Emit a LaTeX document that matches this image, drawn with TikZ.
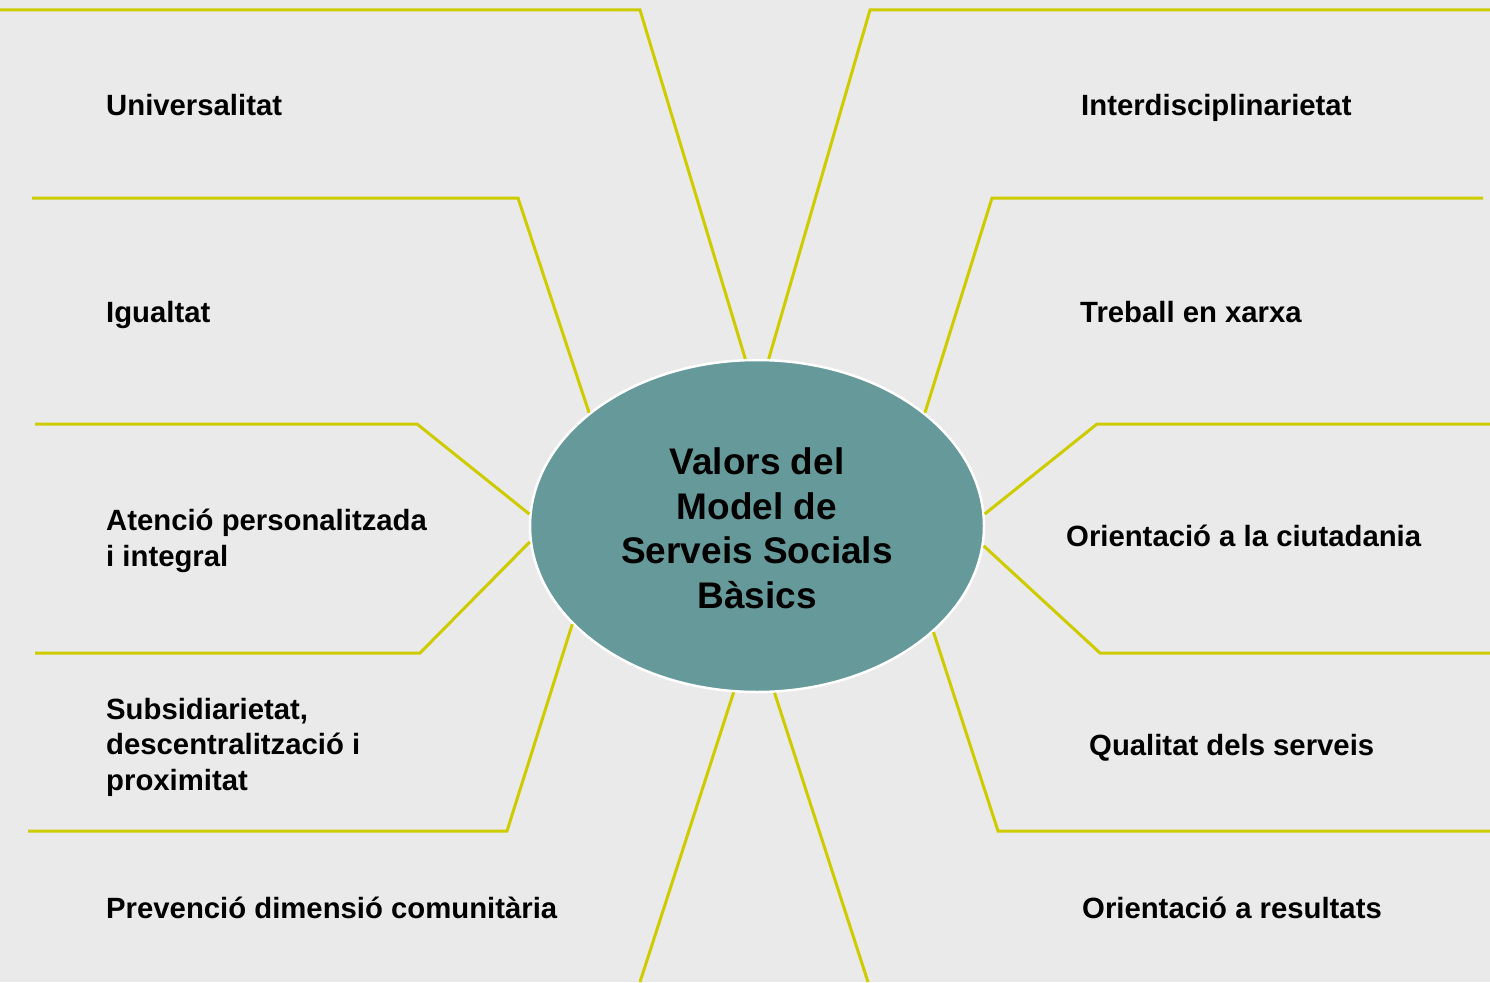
\documentclass[tikz,border=0pt]{standalone}
\usepackage{fontspec}
\setmainfont{Liberation Sans}
\usetikzlibrary{shapes.geometric}
\definecolor{bgc}{RGB}{234,234,234}
\definecolor{teal0}{RGB}{102,153,153}
\definecolor{lime0}{RGB}{206,204,0}
\tikzset{
  lbl/.style={anchor=west,inner sep=0pt,align=left,font=\fontsize{29.3}{35.5}\selectfont\bfseries,text=black},
  lblb/.style={lbl,anchor=base west},
  conn/.style={draw=lime0,line width=3pt,line join=miter},
  hub/.style={ellipse,fill=teal0,draw=white,line width=2.5pt,minimum width=454pt,minimum height=332pt,inner sep=0pt,align=center,font=\fontsize{37}{44.5}\selectfont\bfseries}
}
\begin{document}
\begin{tikzpicture}[x=1pt,y=-1pt]
\fill[bgc] (0,0) rectangle (1490,982);
\useasboundingbox (0,0) rectangle (1490,982);

\node[hub] (c) at (757,526) {};
\node[inner sep=0pt,align=center,font=\fontsize{37}{44.5}\selectfont\bfseries] (ct) at (757,528.5) {Valors del\\Model de\\Serveis Socials\\Bàsics};

% labels
\node[lblb] (l1) at (106,115.7) {Universalitat};
\node[lblb] (l2) at (106,322.7) {Igualtat};
\node[lbl] (l3) at (106,541) {Atenció personalitzada\\i integral};
\node[lbl] (l4) at (106,747) {Subsidiarietat,\\descentralització i\\proximitat};
\node[lblb] (l5) at (106,918.7) {Prevenció dimensió comunitària};
\node[lblb] (r1) at (1081,115.7) {Interdisciplinarietat};
\node[lblb] (r2) at (1080,322.7) {Treball en xarxa};
\node[lblb] (r3) at (1066,546.7) {Orientació a la ciutadania};
\node[lblb] (r4) at (1089,755.7) {Qualitat dels serveis};
\node[lblb] (r5) at (1082,918.7) {Orientació a resultats};

% bend and end coordinates
\coordinate (a1) at (640,10);   \coordinate (e1) at (0,10);
\coordinate (b1) at (870,10);   \coordinate (f1) at (1490,10);
\coordinate (a2) at (518,198);  \coordinate (e2) at (32,198);
\coordinate (b2) at (992,198);  \coordinate (f2) at (1483,198);
\coordinate (a3) at (417,424);  \coordinate (e3) at (35,424);
\coordinate (a3b) at (420,653); \coordinate (e3b) at (35,653);
\coordinate (b3) at (1097,424); \coordinate (f3) at (1490,424);
\coordinate (b3b) at (1100,653);\coordinate (f3b) at (1490,653);
\coordinate (a4) at (507,831);  \coordinate (e4) at (28,831);
\coordinate (b4) at (998,831);  \coordinate (f4) at (1490,831);
\coordinate (a5) at (640,982);
\coordinate (b5) at (868,982);

% connectors
\draw[conn] (c.94.1) -- (a1) -- (e1);
\draw[conn] (c.86.9) -- (b1) -- (f1);
\draw[conn] (c.146.6) -- (a2) -- (e2);
\draw[conn] (c.34.2) -- (b2) -- (f2);
\draw[conn] (c.177.5) -- (a3) -- (e3);
\draw[conn] (c.184.3) -- (a3b) -- (e3b);
\draw[conn] (c.3.3) -- (b3) -- (f3);
\draw[conn] (c.-5.5) -- (b3b) -- (f3b);
\draw[conn] (c.208.4) -- (a4) -- (e4);
\draw[conn] (c.-31) -- (b4) -- (f4);
\draw[conn] (c.262.9) -- (a5);
\draw[conn] (c.276.1) -- (b5);
\end{tikzpicture}
\end{document}
